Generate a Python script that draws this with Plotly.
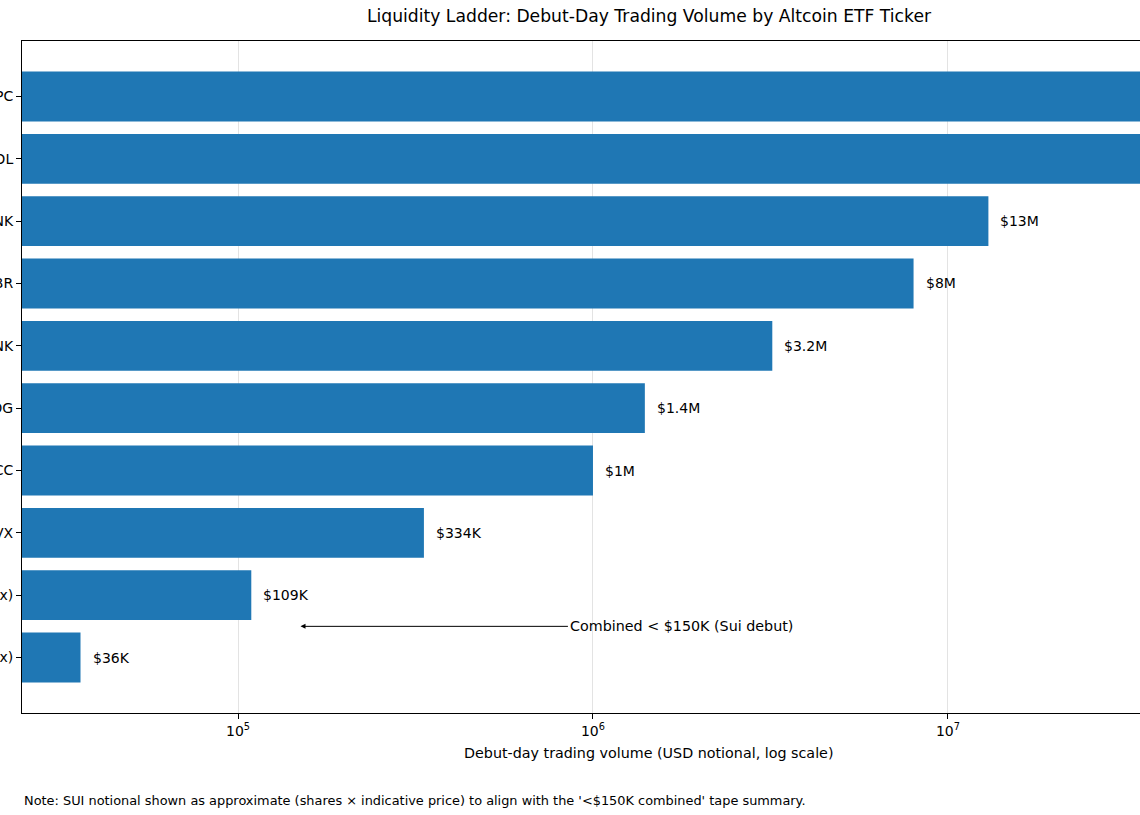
import numpy as np
import plotly.graph_objects as go

# ---- data (top to bottom) ----
tickers = ["XRPC", "BSOL", "GLNK", "HBR", "CLNK", "GDOG", "LTCC", "VAVX", "TXXS (2x)", "SUIL (2x)"]
volumes = [58_000_000, 56_000_000, 13_000_000, 8_000_000, 3_200_000, 1_400_000,
           1_000_000, 334_000, 109_000, 36_000]
value_labels = ["$58M", "$56M", "$13M", "$8M", "$3.2M", "$1.4M", "$1M", "$334K", "$109K", "$36K"]

x_tick_vals = [1e5, 1e6, 1e7]
x_tick_text = ["10<sup>5</sup>", "10<sup>6</sup>", "10<sup>7</sup>"]

sui_cap = 150_000          # arrow head
sui_text_x = 850_000       # annotation text position
sui_text = "Combined < $150K (Sui debut)"

title_text = "Liquidity Ladder: Debut-Day Trading Volume by Altcoin ETF Ticker"
xlabel_text = "Debut-day trading volume (USD notional, log scale)"
note_text = ("Note: SUI notional shown as approximate (shares \u00d7 indicative price) "
             "to align with the '<$150K combined' tape summary.")

FONT = "DejaVu Sans"
BLUE = "#1f77b4"

fig = go.Figure()
fig.add_trace(go.Bar(
    x=volumes, y=tickers, orientation="h", marker=dict(color=BLUE, line=dict(width=0)),
    width=0.8, hoverinfo="skip",
))

annotations = []
for t, v, lab in zip(tickers, volumes, value_labels):
    annotations.append(dict(
        x=np.log10(v), y=t, xref="x", yref="y", text=lab, showarrow=False,
        xanchor="left", yanchor="middle", xshift=10,
        font=dict(family=FONT, size=14, color="black"),
    ))

# Sui arrow annotation (between the last two bars)
annotations.append(dict(
    x=np.log10(sui_cap), y=8.5, xref="x", yref="y",
    ax=np.log10(sui_text_x), ay=8.5, axref="x", ayref="y",
    text=sui_text, showarrow=True, arrowhead=2, arrowsize=1, arrowwidth=1,
    arrowcolor="black", xanchor="left", yanchor="middle",
    font=dict(family=FONT, size=14.3, color="black"),
))

# x-axis title (centered on the original, wider axes)
annotations.append(dict(
    x=0.5608, y=-0.0595, xref="paper", yref="paper", text=xlabel_text,
    showarrow=False, xanchor="center", yanchor="middle",
    font=dict(family=FONT, size=14.3, color="black"),
))
# note
annotations.append(dict(
    x=0, y=-0.1295, xref="paper", yref="paper", text=note_text,
    showarrow=False, xanchor="left", yanchor="middle",
    font=dict(family=FONT, size=12.9, color="black"),
))

fig.update_layout(
    width=1140, height=815,
    margin=dict(l=22, r=0, t=41, b=102, pad=0),
    paper_bgcolor="white", plot_bgcolor="white",
    showlegend=False, bargap=0.2,
    font=dict(family=FONT, size=14, color="black"),
    title=dict(text=title_text, x=0.5608, xref="paper", xanchor="center",
               y=1 - 16 / 815, yref="container", yanchor="middle",
               font=dict(family=FONT, size=17.2, color="black")),
    annotations=annotations,
)

fig.update_xaxes(
    type="log", range=[4.3915, 7.541], autorange=False,
    tickvals=x_tick_vals, ticktext=x_tick_text,
    ticks="outside", ticklen=5, tickwidth=1, tickcolor="black",
    showline=True, linecolor="black", linewidth=1, mirror=True,
    showgrid=True, gridcolor="rgba(176,176,176,0.35)", gridwidth=1,
    zeroline=False, layer="above traces",
    tickfont=dict(family=FONT, size=14, color="black"),
)
fig.update_yaxes(
    type="category", categoryorder="array", categoryarray=tickers,
    range=[9.89, -0.89], autorange=False,
    ticks="outside", ticklen=5, tickwidth=1, tickcolor="black",
    showline=True, linecolor="black", linewidth=1, mirror=False,
    showgrid=False, zeroline=False,
    tickfont=dict(family=FONT, size=14, color="black"),
    automargin=False,
)

fig.write_html(
    "out.html",
    config={"displayModeBar": False},
    post_script="document.body.style.margin='0';document.body.style.overflow='hidden';",
)
